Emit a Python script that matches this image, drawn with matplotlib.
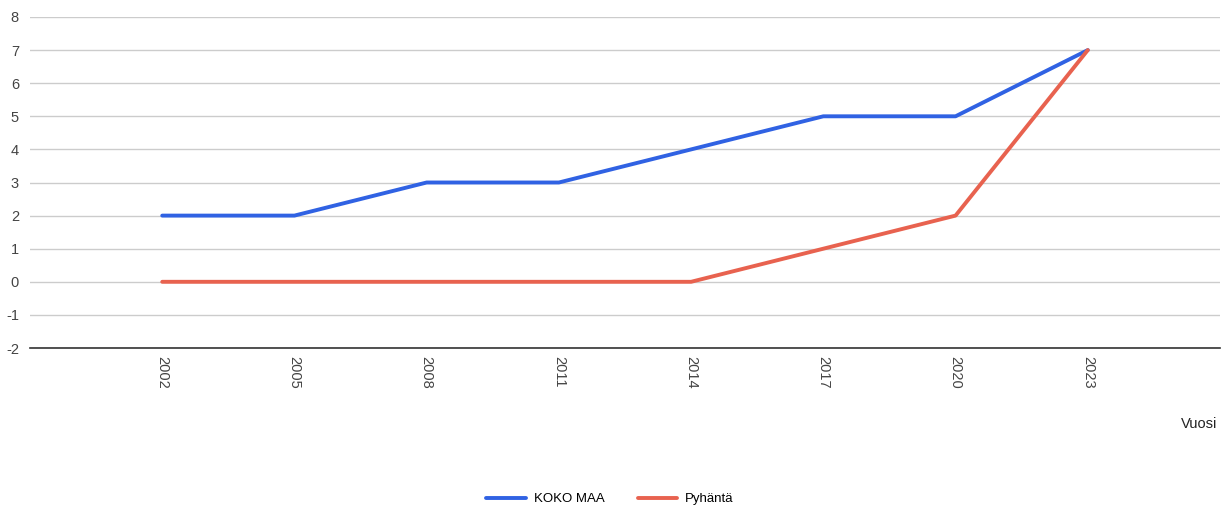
import matplotlib
matplotlib.use("Agg")
import matplotlib.pyplot as plt
import numpy as np

plt.rcParams['font.family'] = ['Liberation Sans', 'DejaVu Sans']
plt.rcParams['axes.unicode_minus'] = False

years = ["2002", "2005", "2008", "2011", "2014", "2017", "2020", "2023"]
koko_maa = [2, 2, 3, 3, 4, 5, 5, 7]
pyhanta = [0, 0, 0, 0, 0, 1, 2, 7]

fig = plt.figure(figsize=(12.27, 5.14), dpi=100)
ax = fig.add_axes([30 / 1227, 1 - 348 / 514, 1190 / 1227, 331 / 514])

x = np.arange(len(years))
ax.plot(x, koko_maa, color='#3062e3', lw=2.8, label='KOKO MAA', solid_capstyle='round')
ax.plot(x, pyhanta, color='#e8624f', lw=2.8, label='Pyhäntä', solid_capstyle='round')

ax.set_xlim(-1, 8)
ax.set_ylim(-2, 8)
ax.set_yticks(range(-2, 9))
ax.set_xticks(x)
ax.set_xticklabels(years, rotation=270, fontsize=10.5, color='#444444')
ax.tick_params(axis='y', labelsize=10.5, labelcolor='#444444', length=0, pad=8)
ax.tick_params(axis='x', length=0, pad=6)
ax.grid(axis='y', color='#cccccc', lw=1)
ax.set_axisbelow(True)
for s in ['top', 'right', 'left']:
    ax.spines[s].set_visible(False)
ax.spines['bottom'].set_color('#333333')
ax.spines['bottom'].set_linewidth(1.2)

fig.text(1217 / 1227, 1 - 424 / 514, 'Vuosi', ha='right', va='center', fontsize=10.5, color='#222222')

fig.legend(loc='center', bbox_to_anchor=(610 / 1227, 1 - 499 / 514), ncol=2, frameon=False,
           fontsize=9.5, handlelength=3, columnspacing=2.5, handletextpad=0.6)

fig.savefig('out.png', dpi=100)
